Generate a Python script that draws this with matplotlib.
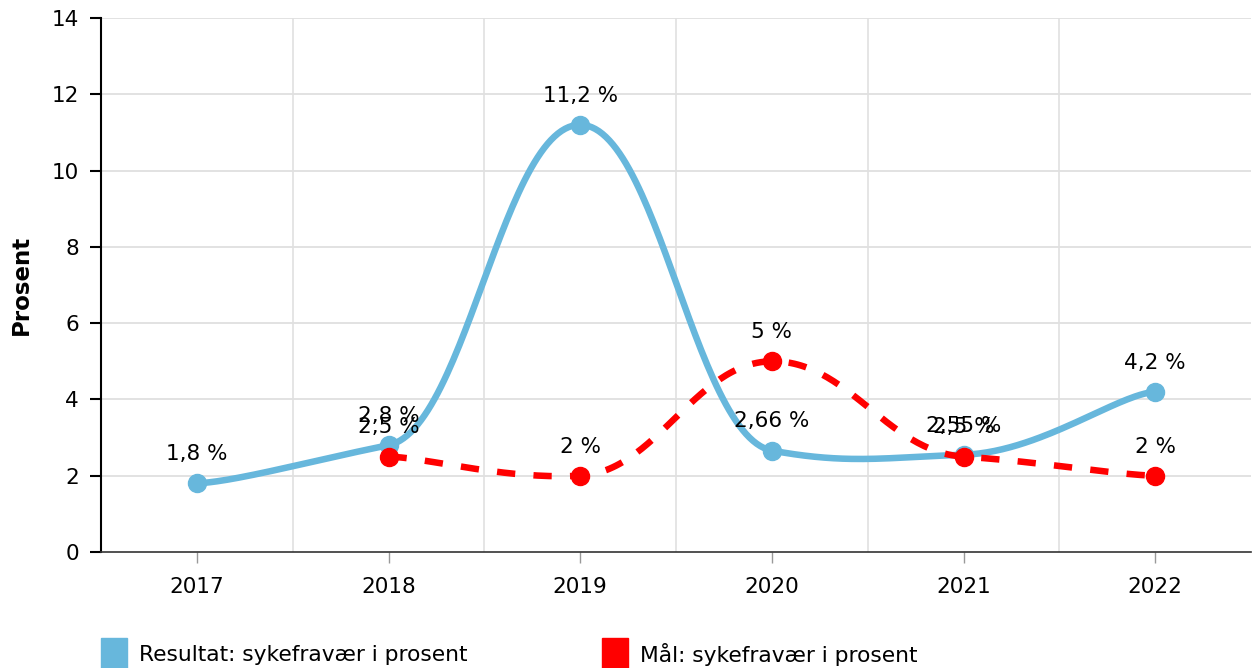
import numpy as np
import matplotlib
matplotlib.use("Agg")
import matplotlib.pyplot as plt
from matplotlib.patches import Rectangle

years = ["2017", "2018", "2019", "2020", "2021", "2022"]
resultat = [1.8, 2.8, 11.2, 2.66, 2.55, 4.2]
maal = [None, 2.5, 2.0, 5.0, 2.5, 2.0]
series_names = ["Resultat: sykefravær i prosent", "Mål: sykefravær i prosent"]
colors = ["#67b7dc", "#ff0000"]
y_ticks = [0, 2, 4, 6, 8, 10, 12, 14]

TENSION_X = 0.80
TENSION_Y = 0.957


def tension_path(xs, ys, n=60):
    """Cubic Bezier smoothing with separate x / y tension (amCharts style)."""
    tx = 1 - TENSION_X
    ty = 1 - TENSION_Y
    pts = list(zip(xs, ys))
    m = len(pts)
    outx, outy = [pts[0][0]], [pts[0][1]]
    t = np.linspace(0, 1, n)[1:]
    for i in range(m - 1):
        p1 = pts[i]
        p2 = pts[i + 1]
        p0 = pts[i - 1] if i > 0 else p1
        p3 = pts[i + 2] if i + 2 < m else p2
        a = (p1[0] + tx * (p2[0] - p0[0]), p1[1] + ty * (p2[1] - p0[1]))
        b = (p2[0] - tx * (p3[0] - p1[0]), p2[1] - ty * (p3[1] - p1[1]))
        bx = (1 - t) ** 3 * p1[0] + 3 * (1 - t) ** 2 * t * a[0] + 3 * (1 - t) * t ** 2 * b[0] + t ** 3 * p2[0]
        by = (1 - t) ** 3 * p1[1] + 3 * (1 - t) ** 2 * t * a[1] + 3 * (1 - t) * t ** 2 * b[1] + t ** 3 * p2[1]
        outx.extend(bx)
        outy.extend(by)
    return np.array(outx), np.array(outy)


def fmt(v):
    return ("%g" % v).replace(".", ",") + " %"


W, H = 1253, 668
fig = plt.figure(figsize=(W / 100, H / 100), dpi=100)
ax = fig.add_axes([101 / W, 1 - 552 / H, (1251 - 101) / W, (552 - 18) / H])
ax.set_xlim(-0.5, len(years) - 0.5)
ax.set_ylim(0, 14)

for s in ["top", "right"]:
    ax.spines[s].set_visible(False)
ax.spines["left"].set_color("#000000")
ax.spines["left"].set_linewidth(1.5)
ax.spines["bottom"].set_color("#333333")
ax.spines["bottom"].set_linewidth(1.2)

ax.set_yticks(y_ticks)
ax.set_yticklabels([str(v) for v in y_ticks])
ax.set_xticks(range(len(years)))
ax.set_xticklabels(years)
ax.tick_params(axis="y", length=8, width=1.5, color="#000000", labelsize=15.5, pad=8)
ax.tick_params(axis="x", length=8, width=1, color="#999999", labelsize=15.5, pad=10)
for v in y_ticks[1:]:
    ax.axhline(v, color="#dddddd", lw=1.2, zorder=0)
for k in range(1, len(years)):
    ax.axvline(k - 0.5, color="#e0e0e0", lw=1.2, zorder=0)

ax.set_ylabel("Prosent", fontsize=16.5, fontweight="bold")
ax.yaxis.set_label_coords((33 - 101) / (1251 - 101), 0.5)

# Resultat series
xb = np.arange(len(years), dtype=float)
yb = np.array(resultat, dtype=float)
sx, sy = tension_path(xb, yb)
ax.plot(sx, sy, color=colors[0], lw=4.7, solid_capstyle="round", zorder=3)
ax.plot(xb, yb, "o", color=colors[0], ms=13, zorder=4)
for x, y in zip(xb, yb):
    ax.annotate(fmt(y), (x, y), xytext=(0, 21), textcoords="offset points",
                ha="center", va="center", fontsize=15.5, zorder=6)

# Maal series
idx = [i for i, v in enumerate(maal) if v is not None]
xr = np.array(idx, dtype=float)
yr = np.array([maal[i] for i in idx], dtype=float)
rx, ry = tension_path(xr, yr)
ax.plot(rx, ry, color=colors[1], lw=4.7, dashes=(2.8, 2.8), dash_capstyle="butt", zorder=5)
ax.plot(xr, yr, "o", color=colors[1], ms=13, zorder=5)
for x, y in zip(xr, yr):
    ax.annotate(fmt(y), (x, y), xytext=(0, 21), textcoords="offset points",
                ha="center", va="center", fontsize=15.5, zorder=6)

# legend (manual, bottom)
leg_x = [101, 602]
for i, name in enumerate(series_names):
    fig.patches.append(Rectangle((leg_x[i] / W, 0), 26 / W, 30 / H,
                                 transform=fig.transFigure, color=colors[i]))
    fig.text((leg_x[i] + 38) / W, 1 - 655 / H, name, fontsize=15.7,
             ha="left", va="center")

fig.savefig("out.png", dpi=100)
